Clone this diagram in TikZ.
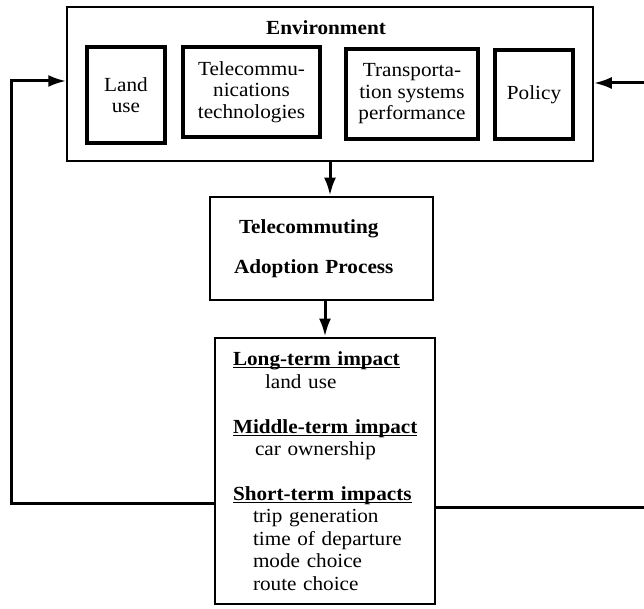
\documentclass[tikz,border=0pt]{standalone}
\usepackage{fontspec}
\setmainfont{Liberation Serif}[FakeStretch=1.06]
\usetikzlibrary{arrows.meta}

% underline that cuts through the descenders, as in the scan
\newlength{\headwd}
\newcommand{\impacthead}[1]{\leavevmode\settowidth{\headwd}{\textbf{#1}}%
  \mbox{\rlap{\rule[-2.6pt]{\headwd}{1.1pt}}\textbf{#1}}}

\tikzset{
  txt/.style={font=\fontsize{20}{21.5}\selectfont},
  envbox/.style={draw, line width=1.5pt, minimum width=526pt, minimum height=154pt},
  inbox/.style={draw, txt, line width=3.2pt, align=center, inner sep=0pt},
  procbox/.style={draw, txt, line width=2.8pt},
  conn/.style={line width=3pt},
  arr/.style={conn, -{Latex[length=18pt,width=12pt]}}
}

\begin{document}
\begin{tikzpicture}[x=1pt, y=-1pt]
  \useasboundingbox (0,0) rectangle (644,609);
  % environment and its parts
  \node[envbox] (env) at (330,84) {};
  \node[txt, font=\fontsize{20}{21.5}\selectfont\bfseries] (envlabel) at (326,28) {Environment};
  \node[inbox, minimum width=78pt, minimum height=96pt] (landuse) at (126,95) {Land\\use};
  \node[inbox, minimum width=137pt, minimum height=90pt] (telecom) at (251.5,92)
    {Telecommu-\\nications\\technologies};
  \node[inbox, minimum width=132pt, minimum height=90pt] (transport) at (412,94)
    {Transporta-\\tion systems\\performance};
  \node[inbox, minimum width=78pt, minimum height=89pt] (policy) at (534,94.5) {Policy};
  % adoption process
  \node[procbox, font=\fontsize{20}{21.5}\selectfont\bfseries, align=left,
        inner xsep=24pt, text width=175pt, minimum height=103pt] (adoption) at (321.5,248.5)
    {\hspace*{5pt}Telecommuting\\[19pt]Adoption Process};
  % impacts
  \node[procbox, align=left, inner xsep=18pt, text width=184pt, minimum height=266pt,
        font=\fontsize{20}{22.5}\selectfont] (impact) at (325,471)
    {\impacthead{Long-term impact}\\
     \hspace*{32pt}land use\\[22.5pt]
     \impacthead{Middle-term impact}\\
     \hspace*{22pt}car ownership\\[22pt]
     \impacthead{Short-term impacts}\\
     \hspace*{20pt}trip generation\\
     \hspace*{20pt}time of departure\\
     \hspace*{20pt}mode choice\\
     \hspace*{20pt}route choice};
  % feedback loops
  \coordinate (lb) at (11,503);
  \coordinate (lt) at (11,81);
  \coordinate (rb) at (652,507);
  \coordinate (rt) at (652,83);
  \draw[arr] (env.south) -- (env.south |- adoption.north);
  \draw[arr] (impact.north |- adoption.south) -- (impact.north);
  \draw[arr] (impact.west |- lb) -- (lb) -- (lt) -- (env.west |- lt);
  \draw[arr] (impact.east |- rb) -- (rb) -- (rt) -- (env.east |- rt);
\end{tikzpicture}
\end{document}
